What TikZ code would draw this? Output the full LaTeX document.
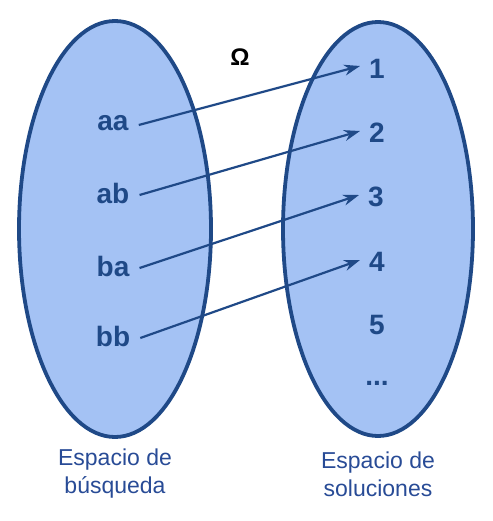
\documentclass[tikz,border=0pt]{standalone}
\usepackage{fontspec}
\setmainfont{Liberation Sans}
\usetikzlibrary{arrows.meta}
\definecolor{fillblue}{RGB}{164,194,244}
\definecolor{darkblue}{RGB}{31,73,135}
\definecolor{labblue}{RGB}{40,75,150}
\tikzset{
  setshape/.style={draw=darkblue, line width=3.8pt, fill=fillblue},
  elem/.style={text=darkblue, font=\fontsize{28}{30}\selectfont\bfseries, inner sep=0pt},
  maparrow/.style={draw=darkblue, line width=2.2pt, -{Stealth[length=16pt,width=11pt]}},
  caption/.style={text=labblue, font=\fontsize{23}{28}\selectfont, align=center, inner sep=0pt}
}
\begin{document}
\begin{tikzpicture}[x=1pt,y=-1pt]
\useasboundingbox (0,0) rectangle (492,521);
\draw[setshape] (115,229) ellipse [x radius=96, y radius=208];
\draw[setshape] (378,229) ellipse [x radius=95, y radius=207];
\node[elem] (aa) at (113,123) {aa};
\node[elem] (ab) at (113,193) {ab};
\node[elem] (ba) at (113,266) {ba};
\node[elem] (bb) at (113,336) {bb};
\node[elem] (n1) at (377,69) {1};
\node[elem] (n2) at (377,133) {2};
\node[elem] (n3) at (376,197) {3};
\node[elem] (n4) at (377,262) {4};
\node[elem] (n5) at (377,325) {5};
\node[elem] (dots) at (377,383) {...};
\node[text=black, font=\fontsize{24}{28}\selectfont\bfseries, inner sep=0pt] (omega) at (240,57) {Ω};
\draw[maparrow] (aa.east) ++(10,2) coordinate (a1) -- ([xshift=-9pt,yshift=3pt]n1.west);
\draw[maparrow] (ab.east) ++(10,2) coordinate (a2) -- ([xshift=-9pt,yshift=2pt]n2.west);
\draw[maparrow] (ba.east) ++(10,2) coordinate (a3) -- ([xshift=-9pt,yshift=2pt]n3.west);
\draw[maparrow] (bb.east) ++(10,2) coordinate (a4) -- ([xshift=-9pt,yshift=2pt]n4.west);
\node[caption] (lcap) at (115,474) {Espacio de\\búsqueda};
\node[caption] (rcap) at (378,474) {Espacio de\\soluciones};
\end{tikzpicture}
\end{document}
